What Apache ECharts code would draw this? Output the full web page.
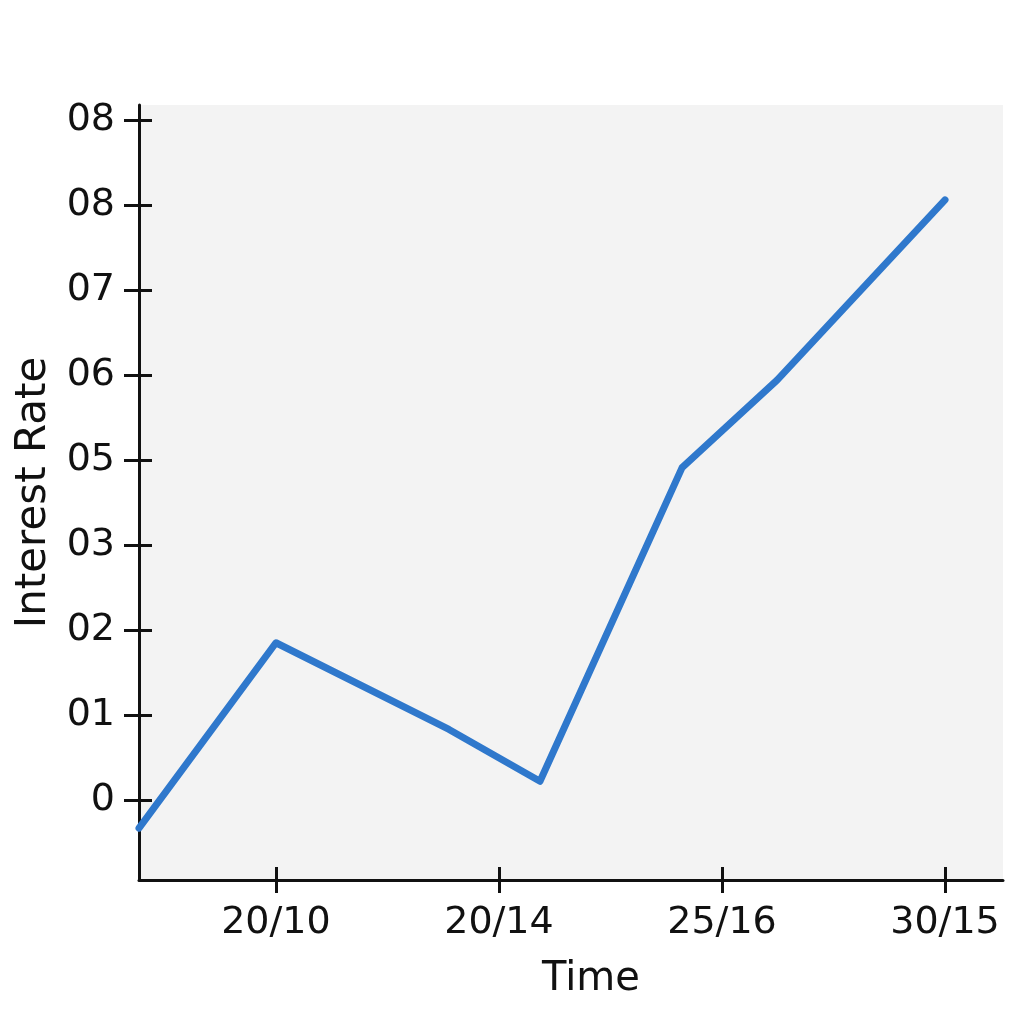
<!DOCTYPE html>
<html>
<head>
<meta charset="utf-8">
<script src="https://cdn.jsdelivr.net/npm/echarts@6/dist/echarts.min.js"></script>
<style>html,body{margin:0;padding:0;background:#fff}#c{width:1024px;height:1024px}</style>
</head>
<body>
<div id="c"></div>
<script>
// Tick positions and labels
var xTickValues = [1, 2, 3, 4];
var xTickLabels = ["20/10", "20/14", "25/16", "30/15"];
var yTickValues = [0, 1, 2, 3, 4, 5, 6, 7, 8];
var yTickLabels = ["0", "01", "02", "03", "05", "06", "07", "08", "08"];
// Series values (x in tick units, y in tick units)
var timeValues = [0.386, 1, 1.776, 2.184, 2.821, 3.247, 4];
var rateValues = [-0.33, 1.85, 0.83, 0.22, 3.91, 4.94, 7.06];

var seriesData = timeValues.map(function (t, i) { return [t, rateValues[i]]; });
var font = 'DejaVu Sans';
var xMin = 0.386, xMax = 4.26, yMin = -0.941, yMax = 8.176;
var tickStyle = { color: '#111', width: 3 };
var gridLeft = 139, gridRight = 21, gridTop = 105, gridBottom = 144;
var plotW = 1024 - gridLeft - gridRight, plotH = 1024 - gridTop - gridBottom;

var chart = echarts.init(document.getElementById('c'));
chart.setOption({
  animation: false,
  grid: { left: gridLeft, right: gridRight, top: gridTop, bottom: gridBottom, show: true, backgroundColor: '#f3f3f3', borderWidth: 0,
    containLabel: false, outerBoundsMode: 'none' },
  xAxis: [{
    type: 'value', min: xMin, max: xMax, position: 'bottom',
    name: 'Time', nameLocation: 'middle', nameGap: 80,
    nameTextStyle: { fontFamily: font, fontSize: 40, color: '#111', padding: [0, 0, 0, 40] },
    axisLine: { show: true, onZero: false, lineStyle: { color: '#111', width: 3 } },
    axisTick: { show: true, customValues: xTickValues, length: 13, lineStyle: tickStyle },
    axisLabel: { show: true, customValues: xTickValues, margin: 24, fontFamily: font, fontSize: 38, color: '#111',
      formatter: function (v) { return xTickLabels[xTickValues.indexOf(Math.round(v))] || ''; } },
    splitLine: { show: false }
  }, {
    // companion axis placed on top slot, shifted down onto the bottom edge so its outward ticks point into the plot
    type: 'value', min: xMin, max: xMax, position: 'top', offset: -plotH,
    axisLine: { show: false, onZero: false },
    axisTick: { show: true, customValues: xTickValues, length: 13, lineStyle: tickStyle },
    axisLabel: { show: false },
    splitLine: { show: false }
  }],
  yAxis: [{
    type: 'value', min: yMin, max: yMax, position: 'left',
    name: 'Interest Rate', nameLocation: 'middle', nameGap: 84, nameRotate: 90,
    nameTextStyle: { fontFamily: font, fontSize: 42, color: '#111' },
    axisLine: { show: true, onZero: false, lineStyle: { color: '#111', width: 3 } },
    axisTick: { show: true, customValues: yTickValues, length: 15, lineStyle: tickStyle },
    axisLabel: { show: true, customValues: yTickValues, margin: 24, fontFamily: font, fontSize: 38, color: '#111',
      formatter: function (v) { return yTickLabels[yTickValues.indexOf(Math.round(v))] || ''; } },
    splitLine: { show: false }
  }, {
    // companion axis placed on right slot, shifted onto the left edge so its outward ticks point into the plot
    type: 'value', min: yMin, max: yMax, position: 'right', offset: -plotW,
    axisLine: { show: false, onZero: false },
    axisTick: { show: true, customValues: yTickValues, length: 13, lineStyle: tickStyle },
    axisLabel: { show: false },
    splitLine: { show: false }
  }],
  series: [{
    type: 'line', data: seriesData, xAxisIndex: 0, yAxisIndex: 0,
    showSymbol: false, symbol: 'none',
    lineStyle: { color: '#2f78cc', width: 7, cap: 'round', join: 'round' }
  }]
});
</script>
</body>
</html>
